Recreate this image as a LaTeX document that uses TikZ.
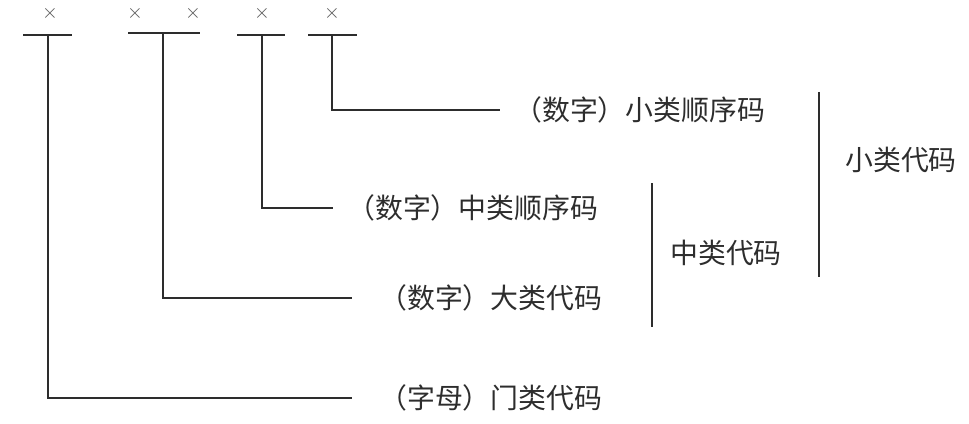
\documentclass[tikz,border=0pt]{standalone}
\usepackage{fontspec}
\usetikzlibrary{positioning}
\newfontfamily\cjkfont{Noto Sans CJK SC}
\definecolor{inkgray}{RGB}{45,45,45}
\definecolor{markgray}{RGB}{85,85,85}

\begin{document}
\begin{tikzpicture}[x=0.03cm,y=-0.03cm,
  lbl/.style={font=\cjkfont\fontsize{23.8}{28}\selectfont,text=inkgray,inner sep=0pt,anchor=west},
  xmark/.style={font=\fontsize{19}{22}\selectfont,text=markgray,inner sep=0pt,text height=1.1ex,text depth=0pt},
  ln/.style={draw=inkgray,line width=1.1pt}]

\useasboundingbox (0,0) rectangle (969,424);

% code positions
\node[xmark] (m1) at (50,16) {$\times$};
\node[xmark] (m2) at (135,16) {$\times$};
\node[xmark] (m3) at (193,16) {$\times$};
\node[xmark] (m4) at (262,16) {$\times$};
\node[xmark] (m5) at (332,16) {$\times$};

\draw[ln] (23,35) -- (72,35);
\draw[ln] (128,33) -- (200,33);
\draw[ln] (237,35) -- (285,35);
\draw[ln] (308,35) -- (357,35);
\coordinate (b1) at (48,35);
\coordinate (b2) at (163,33);
\coordinate (b3) at (262,35);
\coordinate (b4) at (332,35);

% labels
\node[lbl] (t1) at (514,110) {（数字）小类顺序码};
\node[lbl] (t2) at (347,208) {（数字）中类顺序码};
\node[lbl] (t3) at (379,298) {（数字）大类代码};
\node[lbl] (t4) at (379,398) {（字母）门类代码};
\coordinate (e1) at (500,110);
\coordinate (e2) at (333,208);
\coordinate (e3) at (352,298);
\coordinate (e4) at (352,398);

\draw[ln] (b4) |- (e1);
\draw[ln] (b3) |- (e2);
\draw[ln] (b2) |- (e3);
\draw[ln] (b1) |- (e4);

% groups
\coordinate (s1) at (819,92);
\coordinate (s2) at (819,277);
\coordinate (z1) at (652,183);
\coordinate (z2) at (652,327);
\draw[ln] (s1) -- (s2);
\draw[ln] (z1) -- (z2);
\node[lbl] (g1) at (845,160) {小类代码};
\node[lbl] (g2) at (670,253) {中类代码};
\end{tikzpicture}
\end{document}
